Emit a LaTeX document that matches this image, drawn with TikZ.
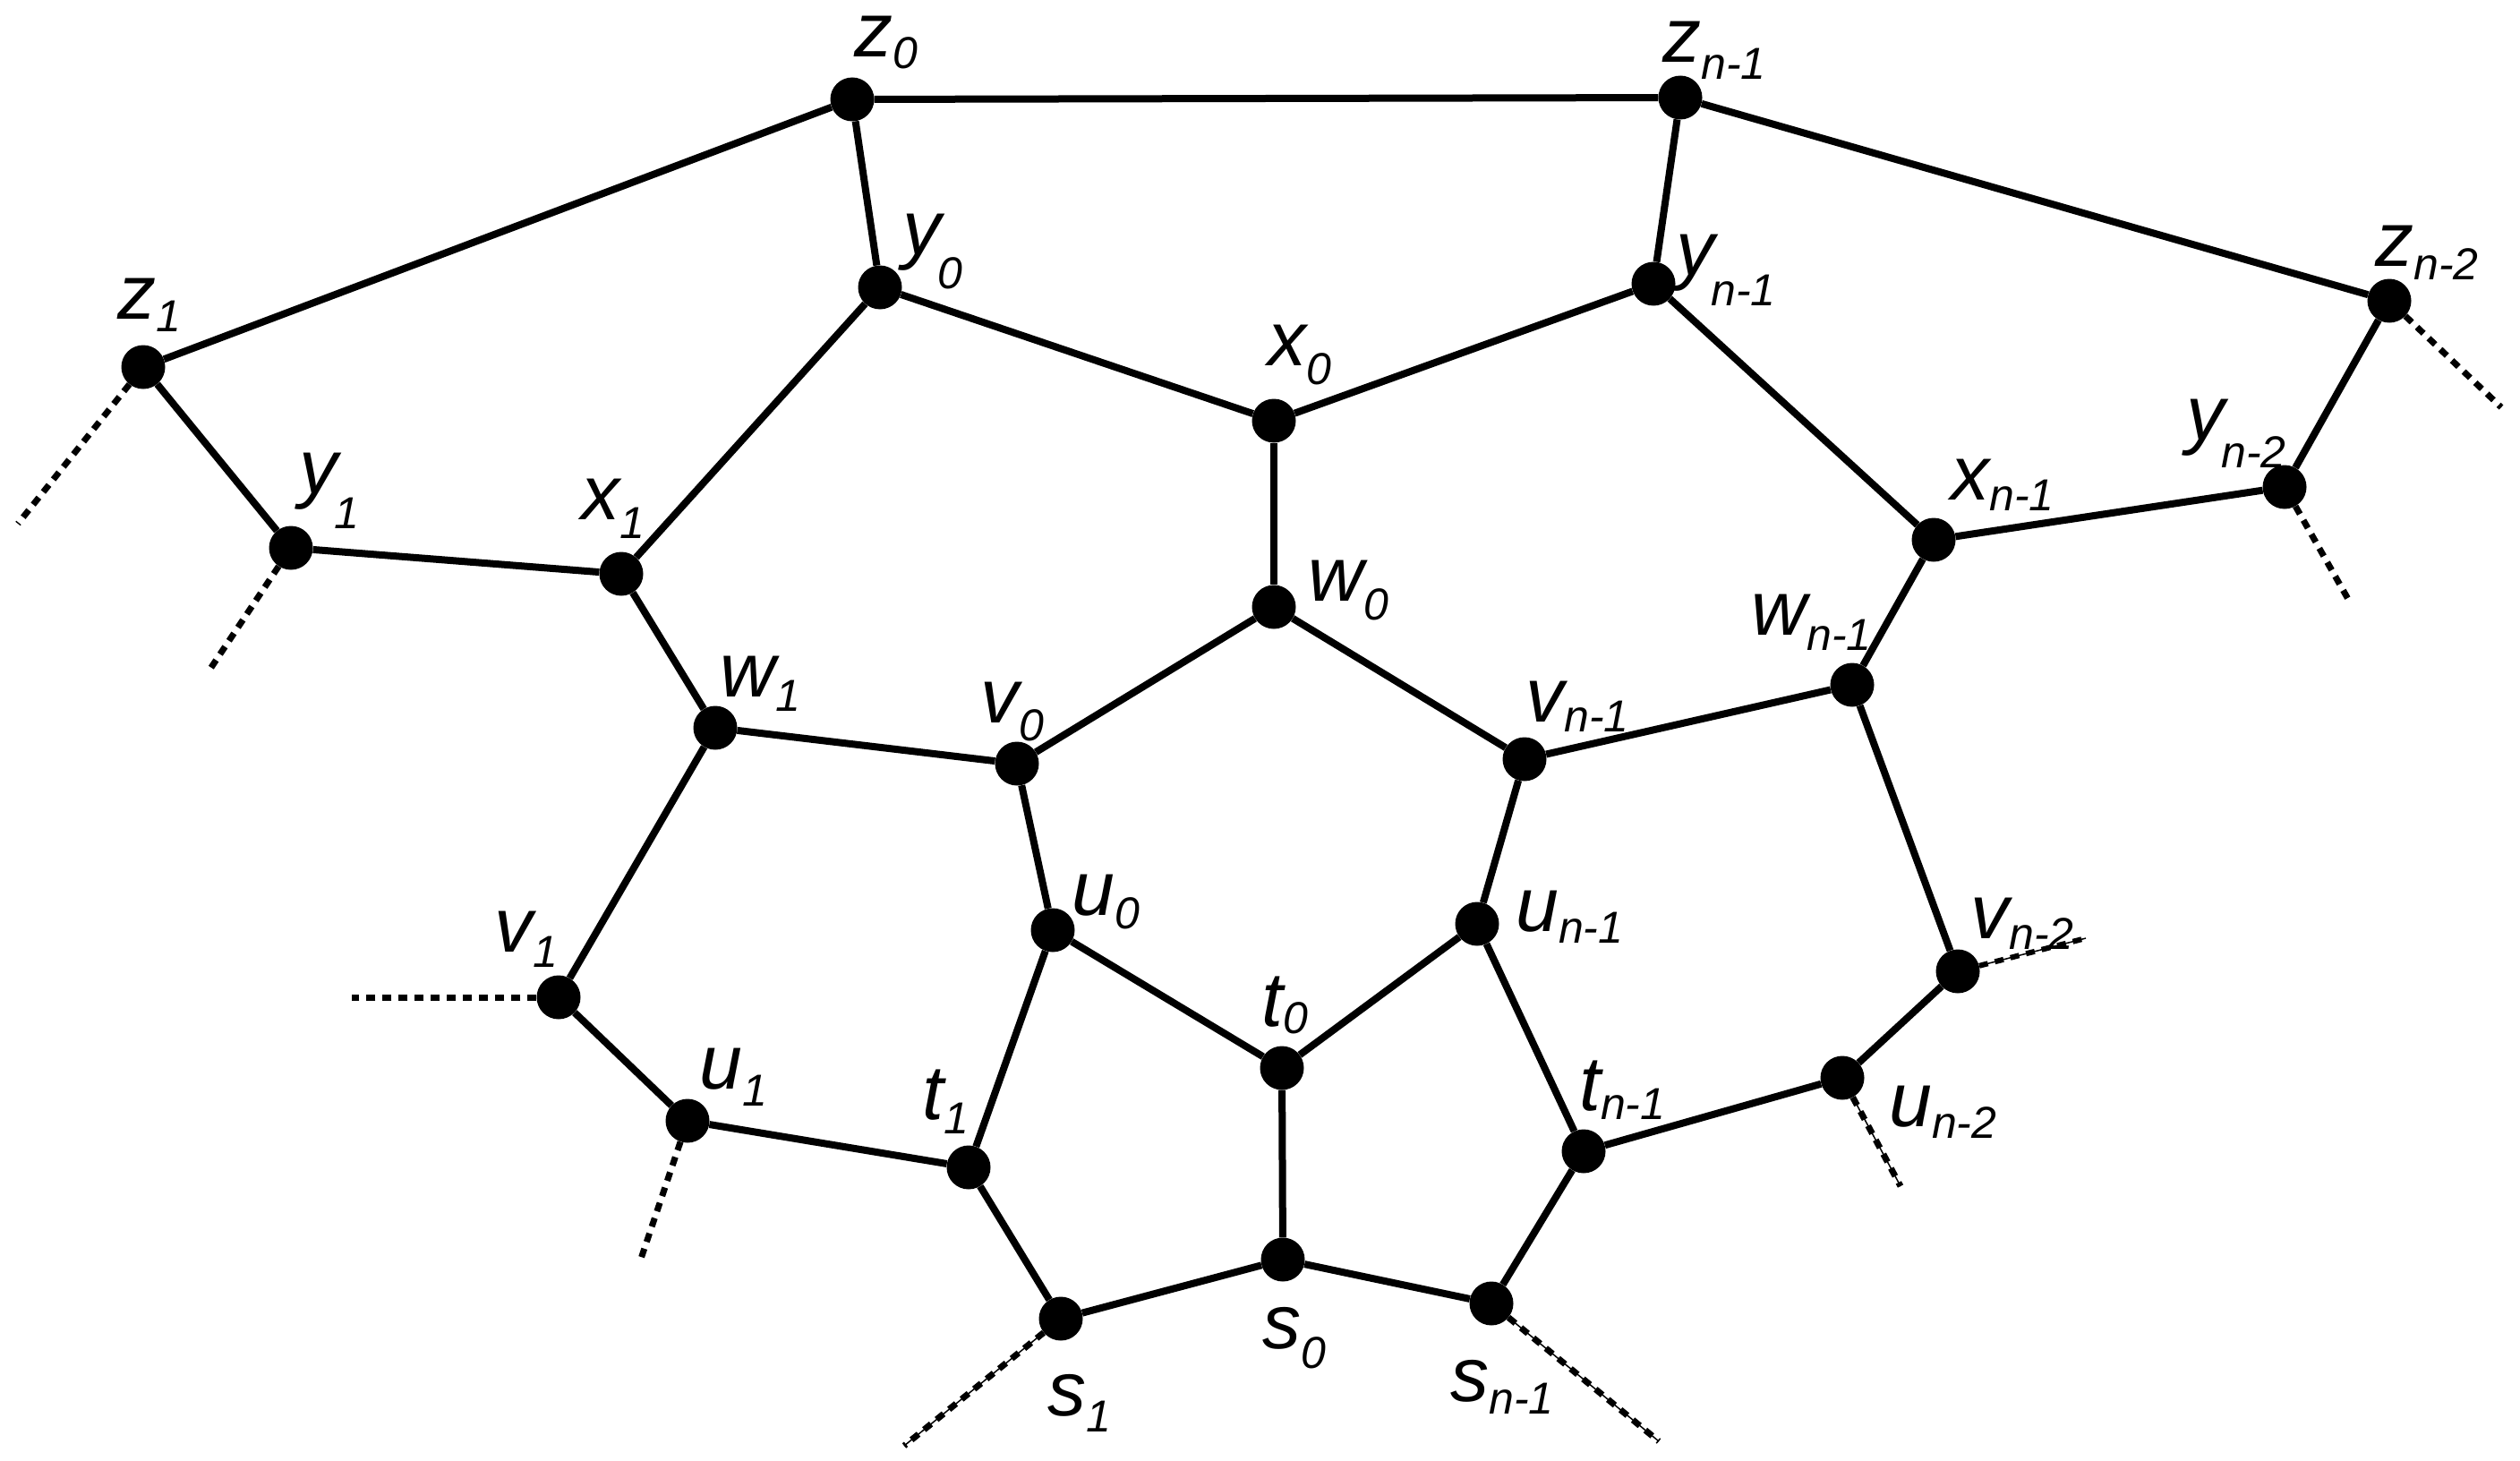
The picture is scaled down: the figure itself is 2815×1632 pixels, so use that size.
\documentclass[tikz,border=0pt]{standalone}
\usepackage{fontspec}
\setmainfont{Liberation Sans}
\newcommand\lb[3]{\fontsize{86}{86}\selectfont\itshape #1\raisebox{-#3pt}{\fontsize{50}{50}\selectfont\itshape #2}}
\begin{document}
\begin{tikzpicture}[x=1pt,y=-1pt,
  dot/.style={circle,fill=black,draw=none,inner sep=0pt,minimum size=49pt},
  edge/.style={line width=8pt,black},
  dashedge/.style={line width=7pt,black,dash pattern=on 10pt off 8pt},
  thinedge/.style={line width=1.5pt,black},
  lab/.style={inner sep=0pt,anchor=base west}]
\useasboundingbox (0,0) rectangle (2815,1632);
% vertices
\node[dot] (z0) at (952,111) {};
\node[dot] (zn1) at (1877,109) {};
\node[dot] (z1) at (160,410) {};
\node[dot] (zn2) at (2669,336) {};
\node[dot] (y0) at (983,321) {};
\node[dot] (yn1) at (1847,317) {};
\node[dot] (x0) at (1423,470) {};
\node[dot] (y1) at (325,612) {};
\node[dot] (x1) at (694,641) {};
\node[dot] (xn1) at (2160,603) {};
\node[dot] (yn2) at (2552,544) {};
\node[dot] (w0) at (1423,678) {};
\node[dot] (w1) at (799,813) {};
\node[dot] (wn1) at (2069,765) {};
\node[dot] (v0) at (1136,853) {};
\node[dot] (vn1) at (1703,848) {};
\node[dot] (u0) at (1176,1039) {};
\node[dot] (un1) at (1650,1032) {};
\node[dot] (v1) at (624,1114) {};
\node[dot] (vn2) at (2187,1085) {};
\node[dot] (t0) at (1432,1193) {};
\node[dot] (u1) at (768,1252) {};
\node[dot] (t1) at (1082,1304) {};
\node[dot] (tn1) at (1769,1286) {};
\node[dot] (un2) at (2058,1204) {};
\node[dot] (s0) at (1433,1407) {};
\node[dot] (s1) at (1185,1473) {};
\node[dot] (sn1) at (1666,1456) {};
% edges
\draw[edge] (z0) -- (zn1);
\draw[edge] (z0) -- (z1);
\draw[edge] (z0) -- (y0);
\draw[edge] (zn1) -- (yn1);
\draw[edge] (zn1) -- (zn2);
\draw[edge] (z1) -- (y1);
\draw[edge] (y0) -- (x0);
\draw[edge] (y0) -- (x1);
\draw[edge] (yn1) -- (x0);
\draw[edge] (yn1) -- (xn1);
\draw[edge] (zn2) -- (yn2);
\draw[edge] (y1) -- (x1);
\draw[edge] (xn1) -- (yn2);
\draw[edge] (x0) -- (w0);
\draw[edge] (x1) -- (w1);
\draw[edge] (xn1) -- (wn1);
\draw[edge] (w0) -- (v0);
\draw[edge] (w0) -- (vn1);
\draw[edge] (w1) -- (v0);
\draw[edge] (w1) -- (v1);
\draw[edge] (wn1) -- (vn1);
\draw[edge] (wn1) -- (vn2);
\draw[edge] (v0) -- (u0);
\draw[edge] (vn1) -- (un1);
\draw[edge] (u0) -- (t0);
\draw[edge] (u0) -- (t1);
\draw[edge] (un1) -- (t0);
\draw[edge] (un1) -- (tn1);
\draw[edge] (v1) -- (u1);
\draw[edge] (u1) -- (t1);
\draw[edge] (vn2) -- (un2);
\draw[edge] (un2) -- (tn1);
\draw[edge] (t0) -- (s0);
\draw[edge] (t1) -- (s1);
\draw[edge] (tn1) -- (sn1);
\draw[edge] (s0) -- (s1);
\draw[edge] (s0) -- (sn1);
% dangling dashed edges
\coordinate (dz1) at (20,585);
\coordinate (dy1) at (235,747);
\coordinate (dv1) at (393,1114);
\coordinate (du1) at (716,1406);
\coordinate (ds1) at (1010,1615);
\coordinate (dsn1) at (1853,1610);
\coordinate (dun2) at (2123,1325);
\coordinate (dvn2) at (2330,1048);
\coordinate (dyn2) at (2624,671);
\coordinate (dzn2) at (2794,455);
\draw[dashedge] (z1) -- (dz1);
\draw[dashedge] (y1) -- (dy1);
\draw[dashedge] (v1) -- (dv1);
\draw[dashedge] (u1) -- (du1);
\draw[thinedge] (s1) -- (ds1);
\draw[dashedge] (s1) -- (ds1);
\draw[thinedge] (sn1) -- (dsn1);
\draw[dashedge] (sn1) -- (dsn1);
\draw[thinedge] (un2) -- (dun2);
\draw[dashedge] (un2) -- (dun2);
\draw[thinedge] (vn2) -- (dvn2);
\draw[dashedge,line width=6pt] (vn2) -- (dvn2);
\draw[dashedge] (yn2) -- (dyn2);
\draw[dashedge] (zn2) -- (dzn2);
% labels
\node[lab] (lz0) at (954,64) {\lb{z}{0}{13}};
\node[lab] (lzn1) at (1857,70) {\lb{z}{n-1}{19}};
\node[lab] (lz1) at (131,356) {\lb{z}{1}{14}};
\node[lab] (lzn2) at (2653,297) {\lb{z}{n-2}{15}};
\node[lab] (ly0) at (1008,284) {\lb{y\kern-4pt}{0}{38}};
\node[lab] (lyn1) at (1872,307) {\lb{y\kern-4pt}{n-1}{34}};
\node[lab] (ly1) at (334,551) {\lb{y\kern-4pt}{1}{39}};
\node[lab] (lyn2) at (2442,491) {\lb{y\kern-4pt}{n-2}{31}};
\node[lab] (lx0) at (1416,408) {\lb{x}{0}{21}};
\node[lab] (lx1) at (649,580) {\lb{x}{1}{21}};
\node[lab] (lxn1) at (2179,558) {\lb{x}{n-1}{12}};
\node[lab] (lw0) at (1461,671) {\lb{w}{0}{21}};
\node[lab] (lw1) at (804,778) {\lb{w}{1}{16}};
\node[lab] (lwn1) at (1956,709) {\lb{w}{n-1}{17}};
\node[lab] (lv0) at (1095,807) {\lb{v}{0}{20}};
\node[lab] (lvn1) at (1704,806) {\lb{v}{n-1}{11}};
\node[lab] (lv1) at (552,1063) {\lb{v}{1}{17}};
\node[lab] (lvn2) at (2201,1048) {\lb{v}{n-2}{12}};
\node[lab] (lu0) at (1197,1022) {\lb{u}{0}{15}};
\node[lab] (lun1) at (1693,1040) {\lb{u}{n-1}{13}};
\node[lab] (lu1) at (781,1216) {\lb{u}{1}{19}};
\node[lab] (lun2) at (2110,1258) {\lb{u}{n-2}{13}};
\node[lab] (lt0) at (1409,1146) {\lb{t}{0}{8}};
\node[lab] (lt1) at (1030,1250) {\lb{t}{1}{16}};
\node[lab] (ltn1) at (1764,1240) {\lb{t}{n-1}{10}};
\node[lab] (ls0) at (1410,1506) {\lb{s}{0}{22}};
\node[lab] (ls1) at (1170,1581) {\lb{s}{1}{18}};
\node[lab] (lsn1) at (1620,1565) {\lb{s}{n-1}{14}};
\end{tikzpicture}
\end{document}
